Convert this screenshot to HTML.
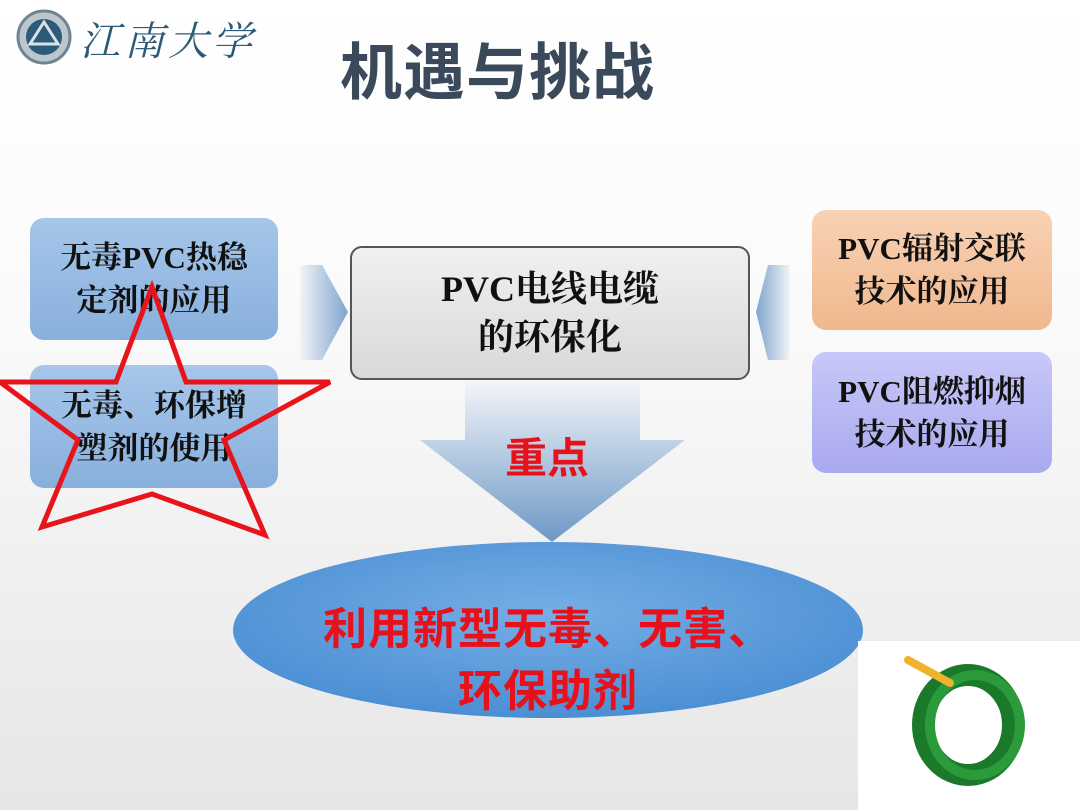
<!DOCTYPE html>
<html><head><meta charset="utf-8"><style>
body{margin:0;width:1080px;height:810px;overflow:hidden;background:linear-gradient(#fff 0%,#fafafa 40%,#e6e6e6 100%);font-family:"Liberation Serif","Noto Serif CJK SC",serif;position:relative}
.b{position:absolute;border-radius:14px;display:flex;align-items:center;justify-content:center;text-align:center;font-size:31px;line-height:43px;color:#111;font-weight:bold;white-space:nowrap}
</style></head><body>
<svg width="1080" height="810" style="position:absolute;left:0;top:0">
<defs>
<linearGradient id="ar" x1="0" y1="0" x2="0" y2="1"><stop offset="0" stop-color="#f4f6f9"/><stop offset="1" stop-color="#6d98c6"/></linearGradient>
<linearGradient id="la" x1="0" y1="0" x2="1" y2="0"><stop offset="0" stop-color="#f2f4f7"/><stop offset="1" stop-color="#7fa4cc"/></linearGradient>
<linearGradient id="ra" x1="1" y1="0" x2="0" y2="0"><stop offset="0" stop-color="#f2f4f7"/><stop offset="1" stop-color="#7fa4cc"/></linearGradient>
<radialGradient id="el" cx=".5" cy=".4" r=".6"><stop offset="0" stop-color="#76aee6"/><stop offset="1" stop-color="#4b8fd3"/></radialGradient>
</defs>
<polygon points="465,380 640,380 640,440 685,440 552,542 420,440 465,440" fill="url(#ar)"/>
<polygon points="300,265 322,265 348,312 322,360 300,360" fill="url(#la)"/>
<polygon points="790,265 768,265 756,312 768,360 790,360" fill="url(#ra)"/>
<ellipse cx="548" cy="630" rx="315" ry="88" fill="url(#el)"/>
<circle cx="44" cy="37" r="26" fill="#bcc6cc" stroke="#6f8491" stroke-width="3"/>
<circle cx="44" cy="37" r="18" fill="#2b5b78"/>
<polygon points="44,22 58,44 30,44" fill="none" stroke="#d8e2e8" stroke-width="3"/>
</svg>
<div style="position:absolute;left:80px;top:10px;font-size:40px;color:#2b5b78;font-style:italic;letter-spacing:4px;font-family:'Noto Serif CJK SC',serif">江南大学</div>
<div style="position:absolute;left:340px;top:22px;font-size:62px;color:#3a4a5a;font-family:'Noto Sans CJK SC',sans-serif;font-weight:bold;letter-spacing:1px">机遇与挑战</div>
<div class="b" style="left:30px;top:218px;width:248px;height:122px;background:linear-gradient(#a6c6ea,#88b0dc)"><span>无毒PVC热稳<br>定剂的应用</span></div>
<div class="b" style="left:30px;top:365px;width:248px;height:123px;background:linear-gradient(#a6c6ea,#88b0dc)"><span>无毒、环保增<br>塑剂的使用</span></div>
<div class="b" style="left:350px;top:246px;width:396px;height:130px;background:linear-gradient(#f0f0f0,#d9d9d9);border:2px solid #555;border-radius:12px;font-size:36px;line-height:48px"><span>PVC电线电缆<br>的环保化</span></div>
<div class="b" style="left:812px;top:210px;width:240px;height:120px;background:linear-gradient(#f8d2b4,#f0b88e)"><span>PVC辐射交联<br>技术的应用</span></div>
<div class="b" style="left:812px;top:352px;width:240px;height:121px;background:linear-gradient(#c8c8f8,#a9a9ef)"><span>PVC阻燃抑烟<br>技术的应用</span></div>
<div style="position:absolute;left:505px;top:425px;font-size:42px;color:#e8111b;font-family:'Noto Sans CJK SC',sans-serif;font-weight:bold">重点</div>
<div style="position:absolute;left:248px;top:594px;width:600px;text-align:center;font-size:44px;line-height:62px;color:#e8111b;font-family:'Noto Sans CJK SC',sans-serif;font-weight:bold;letter-spacing:1px">利用新型无毒、无害、<br>环保助剂</div>
<svg width="1080" height="810" style="position:absolute;left:0;top:0">
<polygon points="152,287 186,382 330,382 224,440 265,535 152,494 42,527 78,440 0,382 116,382" fill="none" stroke="#e8141c" stroke-width="5" stroke-linejoin="miter"/>
<rect x="858" y="641" width="222" height="169" fill="#fff"/>
<ellipse cx="968" cy="725" rx="45" ry="50" fill="none" stroke="#1a7a2a" stroke-width="22"/>
<ellipse cx="975" cy="725" rx="45" ry="50" fill="none" stroke="#2a9a3a" stroke-width="10"/>
<line x1="908" y1="660" x2="950" y2="683" stroke="#f2b12a" stroke-width="8" stroke-linecap="round"/>
</svg>
</body></html>
